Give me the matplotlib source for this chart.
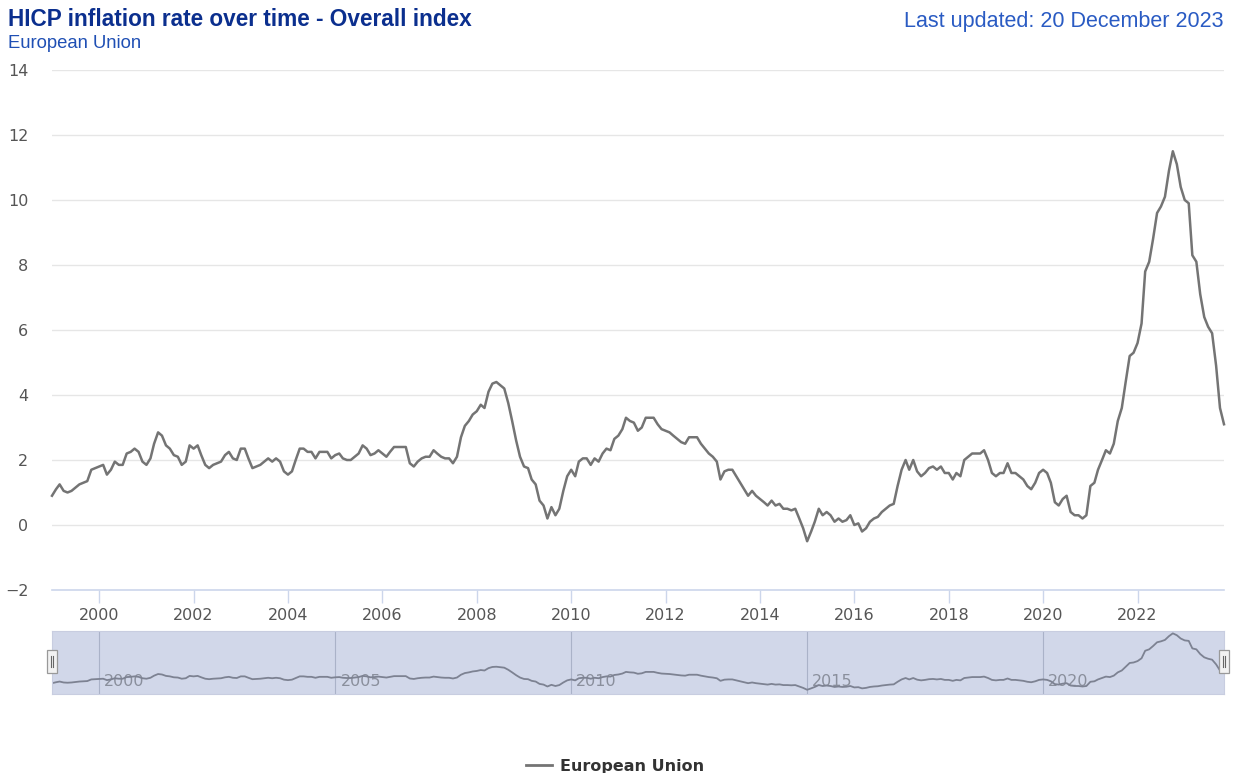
import numpy as np
import pandas as pd
import matplotlib
matplotlib.use("Agg")
import matplotlib.pyplot as plt
import matplotlib.dates as mdates
from matplotlib.patches import Rectangle
from matplotlib.lines import Line2D

## HICP annual rate of change (%), European Union, monthly
y1999 = [0.9, 1.1, 1.25, 1.05, 1.0, 1.05, 1.15, 1.25, 1.3, 1.35, 1.7, 1.75]
y2000 = [1.8, 1.85, 1.55, 1.7, 1.95, 1.85, 1.85, 2.2, 2.25, 2.35, 2.25, 1.95]
y2001 = [1.85, 2.05, 2.5, 2.85, 2.75, 2.45, 2.35, 2.15, 2.1, 1.85, 1.95, 2.45]
y2002 = [2.35, 2.45, 2.15, 1.85, 1.75, 1.85, 1.9, 1.95, 2.15, 2.25, 2.05, 2.0]
y2003 = [2.35, 2.35, 2.05, 1.75, 1.8, 1.85, 1.95, 2.05, 1.95, 2.05, 1.95, 1.65]
y2004 = [1.55, 1.65, 2.0, 2.35, 2.35, 2.25, 2.25, 2.05, 2.25, 2.25, 2.25, 2.05]
y2005 = [2.15, 2.2, 2.05, 2.0, 2.0, 2.1, 2.2, 2.45, 2.35, 2.15, 2.2, 2.3]
y2006 = [2.2, 2.1, 2.25, 2.4, 2.4, 2.4, 2.4, 1.9, 1.8, 1.95, 2.05, 2.1]
y2007 = [2.1, 2.3, 2.2, 2.1, 2.05, 2.05, 1.9, 2.1, 2.7, 3.05, 3.2, 3.4]
y2008 = [3.5, 3.7, 3.6, 4.1, 4.35, 4.4, 4.3, 4.2, 3.75, 3.2, 2.6, 2.1]
y2009 = [1.8, 1.75, 1.4, 1.25, 0.75, 0.6, 0.2, 0.55, 0.3, 0.5, 1.05, 1.5]
y2010 = [1.7, 1.5, 1.95, 2.05, 2.05, 1.85, 2.05, 1.95, 2.2, 2.35, 2.3, 2.65]
y2011 = [2.75, 2.95, 3.3, 3.2, 3.15, 2.9, 3.0, 3.3, 3.3, 3.3, 3.1, 2.95]
y2012 = [2.9, 2.85, 2.75, 2.65, 2.55, 2.5, 2.7, 2.7, 2.7, 2.5, 2.35, 2.2]
y2013 = [2.1, 1.95, 1.4, 1.65, 1.7, 1.7, 1.5, 1.3, 1.1, 0.9, 1.05, 0.9]
y2014 = [0.8, 0.7, 0.6, 0.75, 0.6, 0.65, 0.5, 0.5, 0.45, 0.5, 0.2, -0.1]
y2015 = [-0.5, -0.2, 0.1, 0.5, 0.3, 0.4, 0.3, 0.1, 0.2, 0.1, 0.15, 0.3]
y2016 = [0.0, 0.05, -0.2, -0.1, 0.1, 0.2, 0.25, 0.4, 0.5, 0.6, 0.65, 1.2]
y2017 = [1.7, 2.0, 1.7, 2.0, 1.65, 1.5, 1.6, 1.75, 1.8, 1.7, 1.8, 1.6]
y2018 = [1.6, 1.4, 1.6, 1.5, 2.0, 2.1, 2.2, 2.2, 2.2, 2.3, 2.0, 1.6]
y2019 = [1.5, 1.6, 1.6, 1.9, 1.6, 1.6, 1.5, 1.4, 1.2, 1.1, 1.3, 1.6]
y2020 = [1.7, 1.6, 1.3, 0.7, 0.6, 0.8, 0.9, 0.4, 0.3, 0.3, 0.2, 0.3]
y2021 = [1.2, 1.3, 1.7, 2.0, 2.3, 2.2, 2.5, 3.2, 3.6, 4.4, 5.2, 5.3]
y2022 = [5.6, 6.2, 7.8, 8.1, 8.8, 9.6, 9.8, 10.1, 10.9, 11.5, 11.1, 10.4]
y2023 = [10.0, 9.9, 8.3, 8.1, 7.1, 6.4, 6.1, 5.9, 4.9, 3.6, 3.1]

values = np.array(y1999 + y2000 + y2001 + y2002 + y2003 + y2004 + y2005 + y2006
                  + y2007 + y2008 + y2009 + y2010 + y2011 + y2012 + y2013 + y2014
                  + y2015 + y2016 + y2017 + y2018 + y2019 + y2020 + y2021 + y2022
                  + y2023)
dates = pd.date_range("1999-01-01", periods=len(values), freq="MS")

y_ticks = [-2, 0, 2, 4, 6, 8, 10, 12, 14]
x_tick_years = list(range(2000, 2023, 2))
nav_years = [2000, 2005, 2010, 2015, 2020]

W, H = 1233, 773
fig = plt.figure(figsize=(W / 100, H / 100), dpi=100)

line_col = "#747474"
grid_col = "#e6e6e6"
axis_col = "#ccd6eb"

# main chart
ax = fig.add_axes([52 / W, 1 - 590 / H, (1224 - 52) / W, (590 - 70) / H])
ax.plot(dates, values, color=line_col, lw=1.8, solid_joinstyle="round", clip_on=False)
ax.set_xlim(dates[0], dates[-1])
ax.set_ylim(-2, 14)
ax.set_yticks(y_ticks)
ax.set_yticklabels([str(v).replace("-", "\u2212") for v in y_ticks])
for v in y_ticks[1:]:
    ax.axhline(v, color=grid_col, lw=1, zorder=0)
ax.set_xticks([pd.Timestamp(f"{y}-01-01") for y in x_tick_years])
ax.set_xticklabels([str(y) for y in x_tick_years])
for s in ["top", "right", "left"]:
    ax.spines[s].set_visible(False)
ax.spines["bottom"].set_color(axis_col)
ax.spines["bottom"].set_linewidth(1.2)
ax.tick_params(axis="y", length=0, pad=17, labelsize=11.5, labelcolor="#555555")
ax.tick_params(axis="x", length=9, width=1, color=axis_col, pad=4,
               labelsize=11.5, labelcolor="#555555")
for lab in ax.get_yticklabels():
    lab.set_horizontalalignment("right")

# navigator
nav = fig.add_axes([52 / W, 1 - 694 / H, (1224 - 52) / W, (694 - 631) / H])
nav.set_facecolor("#d1d7e9")
nav.plot(dates, values, color="#7d8292", lw=1.3)
nav.set_xlim(dates[0], dates[-1])
nav.set_ylim(values.min() - 0.9, values.max() + 0.5)
nav.set_xticks([])
nav.set_yticks([])
for s in nav.spines.values():
    s.set_color("#c8cde0")
    s.set_linewidth(0.8)
for y in nav_years:
    d = pd.Timestamp(f"{y}-01-01")
    nav.axvline(d, color="#aab2c8", lw=0.8, zorder=0)
    nav.text(d + pd.Timedelta(days=40), 0.2, str(y), transform=nav.get_xaxis_transform(),
             fontsize=11.5, color="#8a8f9c", va="center", ha="left", zorder=0)
for xh in [0, 1]:
    nav.add_patch(Rectangle((xh - 0.004, 0.34), 0.008, 0.36, transform=nav.transAxes,
                            facecolor="#f2f2f2", edgecolor="#999999", lw=0.9,
                            clip_on=False, zorder=5))
    for dx in [-0.0012, 0.0012]:
        nav.add_line(Line2D([xh + dx, xh + dx], [0.43, 0.61], transform=nav.transAxes,
                            color="#666666", lw=0.8, clip_on=False, zorder=6))

# titles
fig.text(8 / W, 1 - 19 / H, "HICP inflation rate over time - Overall index",
         family="Liberation Sans", fontsize=16.3, fontweight="bold",
         color="#0b2f8e", va="center", ha="left")
fig.text(8 / W, 1 - 44 / H, "European Union", family="Liberation Sans",
         fontsize=13.3, color="#1f4fb4", va="center", ha="left")
fig.text(1223 / W, 1 - 22 / H, "Last updated: 20 December 2023", family="Liberation Sans",
         fontsize=15.5, color="#2a5bc3", va="center", ha="right")

# legend
fig.legend([Line2D([0], [0], color=line_col, lw=2)], ["European Union"],
           loc="center", bbox_to_anchor=(615 / W, 1 - 766 / H), frameon=False,
           handlelength=1.6, handletextpad=0.5,
           prop={"weight": "bold", "size": 11.5}, labelcolor="#333333")

fig.savefig("out.png", dpi=100)
